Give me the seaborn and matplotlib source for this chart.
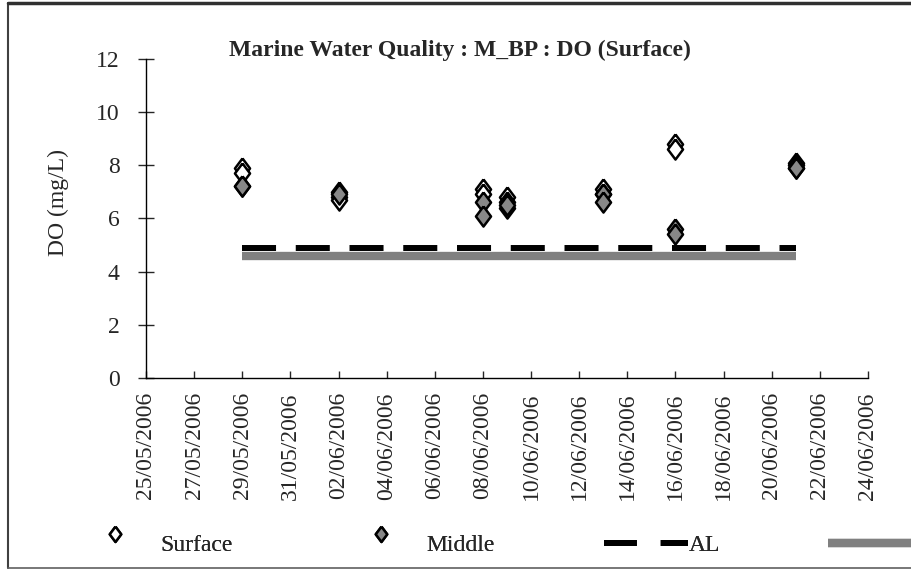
import numpy as np
import pandas as pd
import matplotlib
matplotlib.use("Agg")
import matplotlib.pyplot as plt
import matplotlib.dates as mdates
import seaborn as sns
from matplotlib.lines import Line2D
from matplotlib.markers import MarkerStyle
from matplotlib.transforms import Affine2D

# sampling dates and DO readings (two replicates per depth)
sample_dates = ["2006-05-29", "2006-06-02", "2006-06-08", "2006-06-09",
                "2006-06-13", "2006-06-16", "2006-06-21"]
surface_a = [7.9, 6.8, 7.1, 6.8, 7.1, 8.8, 8.1]
surface_b = [7.7, 6.7, 6.9, 6.4, 6.9, 8.6, 7.9]
middle_a = [7.2, 7.0, 6.6, 6.6, 6.9, 5.6, 8.0]
middle_b = [7.2, 6.9, 6.1, 6.5, 6.6, 5.4, 7.9]

# criteria lines
line_dates = ["2006-05-29", "2006-06-21"]
al_values = [4.9, 4.9]
grey_values = [4.6, 4.6]

tick_dates = pd.date_range("2006-05-25", "2006-06-24", freq="2D")

sns.set_style("white")
plt.rcParams["font.family"] = ["Liberation Serif", "DejaVu Serif"]

W, H = 912, 573
FS = 17
fig = plt.figure(figsize=(W / 100, H / 100), dpi=100)
ax = fig.add_axes([146 / W, 1 - 378.3 / H, (868 - 146) / W, (378.3 - 58.6) / H])

dts = pd.to_datetime(sample_dates)
surf = pd.DataFrame({"date": list(dts) * 2, "DO": surface_a + surface_b})
mid = pd.DataFrame({"date": list(dts) * 2, "DO": middle_a + middle_b})
crit = pd.DataFrame({"date": pd.to_datetime(line_dates), "AL": al_values, "grey": grey_values})

diamond = [(0, 1), (0.75, 0), (0, -1), (-0.75, 0), (0, 1)]

sns.lineplot(data=crit, x="date", y="grey", ax=ax, color="#808080", linewidth=6,
             solid_capstyle="butt", zorder=2)
sns.lineplot(data=crit, x="date", y="AL", ax=ax, color="black", linewidth=4.3,
             dashes=False, zorder=3)
ax.lines[-1].set_dashes((5.7, 3.3))
ax.lines[-1].set_dash_capstyle("butt")

sns.scatterplot(data=surf, x="date", y="DO", ax=ax, marker=diamond, s=210,
                color="white", edgecolor="black", linewidth=1.8, zorder=4)
sns.scatterplot(data=mid, x="date", y="DO", ax=ax, marker=diamond, s=210,
                color="#888888", edgecolor="black", linewidth=1.8, zorder=5)

ax.set_xlim(tick_dates[0], tick_dates[-1])
ax.set_ylim(0, 12)
ax.set_yticks(range(0, 13, 2))
ax.xaxis.set_major_locator(matplotlib.ticker.FixedLocator(mdates.date2num(tick_dates)))
ax.xaxis.set_major_formatter(mdates.DateFormatter("%d/%m/%Y"))
ax.tick_params(axis="x", direction="in", length=5, width=1, rotation=90,
               labelsize=FS, pad=10, bottom=True)
ax.tick_params(axis="y", direction="inout", length=11.3, width=1, labelsize=FS,
               pad=13.5, left=True)
for s in ["top", "right"]:
    ax.spines[s].set_visible(False)
for s in ["left", "bottom"]:
    ax.spines[s].set_color("black")
    ax.spines[s].set_linewidth(1)

ax.set_xlabel("")
ax.set_ylabel("DO (mg/L)", fontsize=FS)
ax.yaxis.set_label_coords(-0.107, 0.55)
fig.suptitle("Marine Water Quality : M_BP : DO (Surface)", fontsize=FS,
             fontweight="bold", x=460 / W, y=1 - 50 / H, va="center")

# legend entries laid out like the spreadsheet legend (markers sit a bit high)
leg_diamond = MarkerStyle(diamond, transform=Affine2D().translate(0, 0.6))
sh = Line2D([], [], linestyle="none", marker=leg_diamond, markersize=11,
            markerfacecolor="white", markeredgecolor="black", markeredgewidth=1.8)
mh = Line2D([], [], linestyle="none", marker=leg_diamond, markersize=11,
            markerfacecolor="#888888", markeredgecolor="black", markeredgewidth=1.8)
ah = Line2D([], [], color="black", linewidth=4.3, dashes=(5.5, 4.0), dash_capstyle="butt")
gh = Line2D([], [], color="#808080", linewidth=6, solid_capstyle="butt")

entries = [(sh, "Surface", 93, 1.9, 0.95), (mh, "Middle", 359, 1.9, 0.95),
           (ah, "AL", 604, 3.56, 0.05), (gh, "", 828, 5.0, 0.1)]
for h, lab, x0, hl, tp in entries:
    leg = fig.legend([h], [lab], loc="center left", bbox_to_anchor=(x0 / W, 1 - 545 / H),
                     frameon=False, fontsize=FS, handlelength=hl, handletextpad=tp,
                     borderpad=0, borderaxespad=0)
    fig.add_artist(leg)

# outer chart frame (left, top, bottom edges)
fig.add_artist(Line2D([8 / W, 8 / W], [1 - 568 / H, 1 - 3 / H], transform=fig.transFigure,
                      color="#404040", linewidth=1.5))
fig.add_artist(Line2D([8 / W, 1], [1 - 3 / H, 1 - 3 / H], transform=fig.transFigure,
                      color="#303030", linewidth=2.5))
fig.add_artist(Line2D([8 / W, 1], [1 - 568 / H, 1 - 568 / H], transform=fig.transFigure,
                      color="#606060", linewidth=1.2))

fig.savefig("out.png", dpi=100)
